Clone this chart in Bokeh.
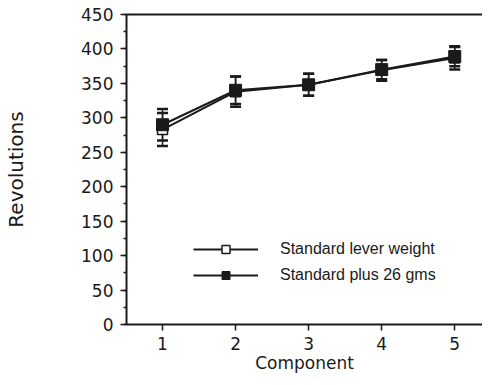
from bokeh.plotting import figure
from bokeh.models import (ColumnDataSource, Range1d, LinearAxis, FixedTicker, Whisker,
                          TeeHead, Legend, LegendItem)
from bokeh.embed import file_html
from bokeh.resources import INLINE

components = [1, 2, 3, 4, 5]
std_mean = [283, 338, 348, 369, 387]
std_err = [24, 22, 16, 15, 17]
plus_mean = [290, 340, 348, 370, 389]
plus_err = [23, 20, 16, 14, 14]
y_ticks = [0, 50, 100, 150, 200, 250, 300, 350, 400, 450]
y_minor = list(range(0, 451, 25))
labels = ["Standard lever weight", "Standard plus 26 gms"]

FONT = "DejaVu Sans"
LFONT = "Liberation Sans"
INK = "#1a1a1a"

p = figure(width=482, height=377, output_backend="svg", toolbar_location=None,
           x_range=Range1d(0.507, 5.38), y_range=Range1d(0, 450),
           min_border_left=126, min_border_right=0, min_border_top=14, min_border_bottom=53)
p.grid.visible = False
p.outline_line_color = None
p.background_fill_color = "white"
p.border_fill_color = "white"

src_std = ColumnDataSource(dict(x=components, y=std_mean,
                                lo=[m - e for m, e in zip(std_mean, std_err)],
                                hi=[m + e for m, e in zip(std_mean, std_err)]))
src_plus = ColumnDataSource(dict(x=components, y=plus_mean,
                                 lo=[m - e for m, e in zip(plus_mean, plus_err)],
                                 hi=[m + e for m, e in zip(plus_mean, plus_err)]))

for src in (src_std, src_plus):
    w = Whisker(source=src, base="x", upper="hi", lower="lo", line_color=INK, line_width=1.5,
                upper_head=TeeHead(size=11, line_width=2.5, line_color=INK),
                lower_head=TeeHead(size=11, line_width=2.5, line_color=INK))
    p.add_layout(w)

l1 = p.line("x", "y", source=src_std, line_color=INK, line_width=2)
l2 = p.line("x", "y", source=src_plus, line_color=INK, line_width=2)
s1 = p.scatter("x", "y", source=src_std, marker="square", size=10, fill_color="white",
               line_color=INK, line_width=1.5)
s2 = p.scatter("x", "y", source=src_plus, marker="square", size=12, fill_color=INK,
               line_color=INK, line_width=1)

for ax in (p.xaxis[0], p.yaxis[0]):
    ax.axis_line_color = INK
    ax.axis_line_width = 2
    ax.major_tick_line_color = INK
    ax.major_tick_line_width = 1.5
    ax.major_tick_in = 0
    ax.major_tick_out = 6
    ax.major_label_text_font = FONT
    ax.major_label_text_font_size = "17px"
    ax.major_label_text_color = INK
    ax.axis_label_text_font = FONT
    ax.axis_label_text_font_style = "normal"
    ax.axis_label_text_color = INK

p.xaxis.ticker = FixedTicker(ticks=components)
p.xaxis.minor_tick_line_color = None
p.xaxis.axis_label = "Component"
p.xaxis.axis_label_text_font_size = "17px"
p.xaxis.major_label_standoff = 6
p.xaxis.axis_label_standoff = 0

p.yaxis.ticker = FixedTicker(ticks=y_ticks, minor_ticks=y_minor)
p.yaxis.minor_tick_line_color = INK
p.yaxis.minor_tick_line_width = 1.5
p.yaxis.minor_tick_in = 0
p.yaxis.minor_tick_out = 3
p.yaxis.axis_label = "Revolutions"
p.yaxis.axis_label_text_font_size = "20px"
p.yaxis.major_label_standoff = 7
p.yaxis.axis_label_standoff = 50

top = LinearAxis(axis_line_color=INK, axis_line_width=2, major_tick_line_color=None,
                 minor_tick_line_color=None, major_label_text_font_size="0px",
                 major_label_standoff=0, major_tick_out=0, ticker=FixedTicker(ticks=[]))
p.add_layout(top, "above")

legend = Legend(items=[LegendItem(label=labels[0], renderers=[l1, s1]),
                       LegendItem(label=labels[1], renderers=[l2, s2])],
                location=(67, 39), glyph_width=65, glyph_height=20, spacing=6,
                label_standoff=22, padding=0, margin=0,
                border_line_color=None, background_fill_alpha=0,
                label_text_font=LFONT, label_text_font_size="16px", label_text_color=INK)
p.add_layout(legend, "center")

open("out.html", "w").write(file_html(p, INLINE))
